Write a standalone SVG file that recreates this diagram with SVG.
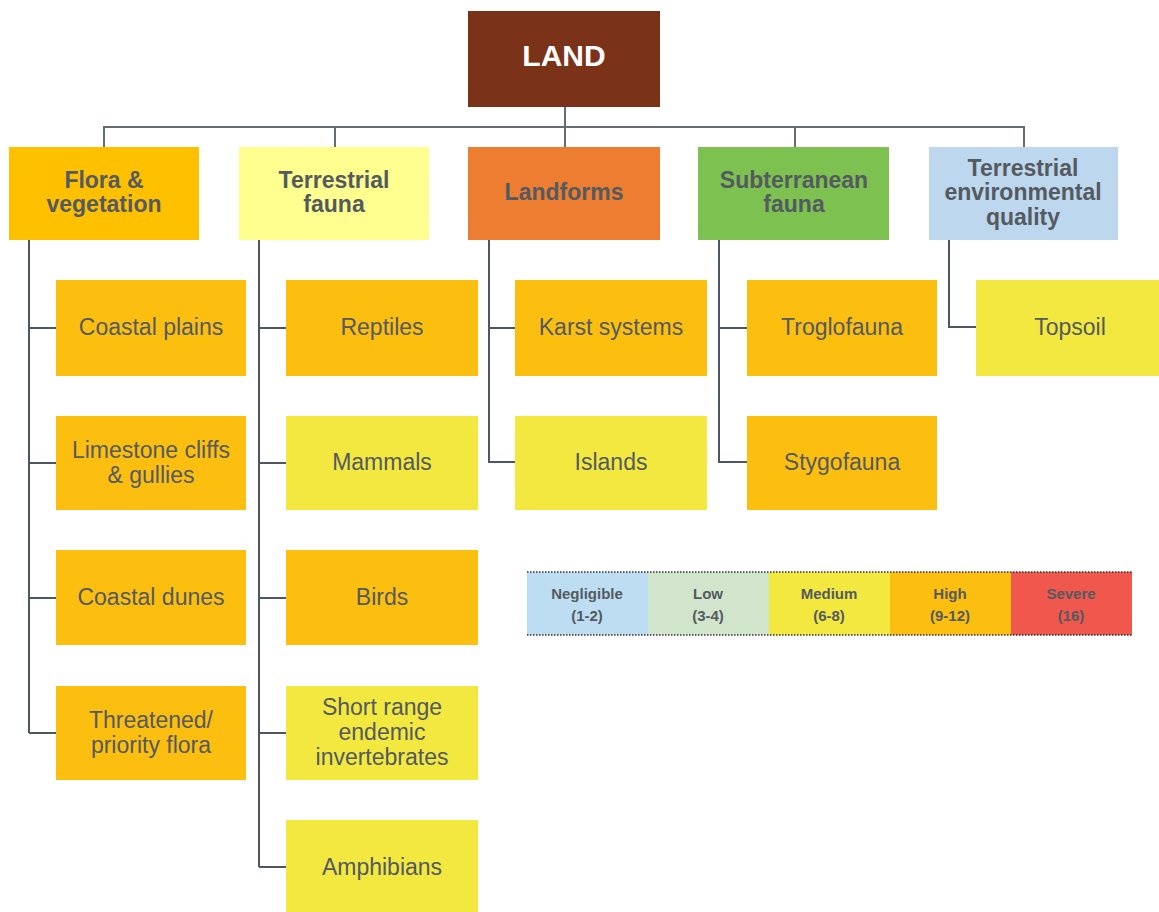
<svg xmlns="http://www.w3.org/2000/svg" width="1159" height="912" viewBox="0 0 1159 912">
  <style>
    .t { font-family: "Liberation Sans", Arial, sans-serif; fill: #545a60; text-anchor: middle; }
    .h { font-size: 23px; font-weight: bold; }
    .s { font-size: 23px; }
    .lg { font-size: 15px; font-weight: bold; }
    .root { font-family: "Liberation Sans", Arial, sans-serif; font-size: 30px; font-weight: bold; fill: #ffffff; text-anchor: middle; }
    .ln { fill: none; stroke: #4c5664; stroke-width: 2; }
    .top { fill: none; stroke: #646b72; stroke-width: 2; }
    .or { fill: #fcbf10; }
    .ye { fill: #f2e840; }
    .dot { stroke: #333; stroke-width: 1.5; stroke-dasharray: 1.5 1.5; }
  </style>

  <!-- connectors -->
  <g id="connectors">
    <path class="top" d="M565 107V147M104 147V127H1024V147M335 127V147M795 127V147"/>
    <path class="ln" d="M29 240V733M29 328H56M29 463H56M29 598H56M29 733H56"/>
    <path class="ln" d="M259 240V867M259 328H286M259 463H286M259 598H286M259 733H286M259 867H286"/>
    <path class="ln" d="M489 240V462H515M489 328H515"/>
    <path class="ln" d="M719 240V462H747M719 328H747"/>
    <path class="ln" d="M949 240V327H976"/>
  </g>

  <!-- root -->
  <g id="land">
    <rect x="468" y="11" width="192" height="96" fill="#7a3218"/>
    <text class="root" x="564" y="66">LAND</text>
  </g>

  <!-- first level -->
  <g id="flora">
    <rect x="9" y="147" width="190" height="93" fill="#ffc000"/>
    <text class="t h" x="104" y="188">Flora &amp;</text>
    <text class="t h" x="104" y="212">vegetation</text>
  </g>
  <g id="terrestrial-fauna">
    <rect x="239" y="147" width="190" height="93" fill="#ffff8f"/>
    <text class="t h" x="334" y="188">Terrestrial</text>
    <text class="t h" x="334" y="212">fauna</text>
  </g>
  <g id="landforms">
    <rect x="468" y="147" width="192" height="93" fill="#ed7d31"/>
    <text class="t h" x="564" y="200">Landforms</text>
  </g>
  <g id="subterranean-fauna">
    <rect x="698" y="147" width="191" height="93" fill="#7dc151"/>
    <text class="t h" x="794" y="188">Subterranean</text>
    <text class="t h" x="794" y="212">fauna</text>
  </g>
  <g id="environmental-quality">
    <rect x="929" y="147" width="189" height="93" fill="#bdd7ee"/>
    <text class="t h" x="1023" y="176">Terrestrial</text>
    <text class="t h" x="1023" y="200">environmental</text>
    <text class="t h" x="1023" y="225">quality</text>
  </g>

  <!-- flora & vegetation -->
  <g id="coastal-plains">
    <rect class="or" x="56" y="280" width="190" height="96"/>
    <text class="t s" x="151" y="335">Coastal plains</text>
  </g>
  <g id="limestone-cliffs">
    <rect class="or" x="56" y="416" width="190" height="94"/>
    <text class="t s" x="151" y="458">Limestone cliffs</text>
    <text class="t s" x="151" y="483">&amp; gullies</text>
  </g>
  <g id="coastal-dunes">
    <rect class="or" x="56" y="550" width="190" height="95"/>
    <text class="t s" x="151" y="605">Coastal dunes</text>
  </g>
  <g id="threatened-flora">
    <rect class="or" x="56" y="686" width="190" height="94"/>
    <text class="t s" x="151" y="728">Threatened/</text>
    <text class="t s" x="151" y="753">priority flora</text>
  </g>

  <!-- terrestrial fauna -->
  <g id="reptiles">
    <rect class="or" x="286" y="280" width="192" height="96"/>
    <text class="t s" x="382" y="335">Reptiles</text>
  </g>
  <g id="mammals">
    <rect class="ye" x="286" y="416" width="192" height="94"/>
    <text class="t s" x="382" y="470">Mammals</text>
  </g>
  <g id="birds">
    <rect class="or" x="286" y="550" width="192" height="95"/>
    <text class="t s" x="382" y="605">Birds</text>
  </g>
  <g id="short-range-endemics">
    <rect class="ye" x="286" y="686" width="192" height="94"/>
    <text class="t s" x="382" y="715">Short range</text>
    <text class="t s" x="382" y="740">endemic</text>
    <text class="t s" x="382" y="765">invertebrates</text>
  </g>
  <g id="amphibians">
    <rect class="ye" x="286" y="820" width="192" height="92"/>
    <text class="t s" x="382" y="875">Amphibians</text>
  </g>

  <!-- landforms -->
  <g id="karst-systems">
    <rect class="or" x="515" y="280" width="192" height="96"/>
    <text class="t s" x="611" y="335">Karst systems</text>
  </g>
  <g id="islands">
    <rect class="ye" x="515" y="416" width="192" height="94"/>
    <text class="t s" x="611" y="470">Islands</text>
  </g>

  <!-- subterranean fauna -->
  <g id="troglofauna">
    <rect class="or" x="747" y="280" width="190" height="96"/>
    <text class="t s" x="842" y="335">Troglofauna</text>
  </g>
  <g id="stygofauna">
    <rect class="or" x="747" y="416" width="190" height="94"/>
    <text class="t s" x="842" y="470">Stygofauna</text>
  </g>

  <!-- environmental quality -->
  <g id="topsoil">
    <rect class="ye" x="976" y="280" width="183" height="96"/>
    <text class="t s" x="1070" y="335">Topsoil</text>
  </g>

  <!-- risk legend -->
  <g id="legend">
    <rect x="527" y="572" width="121" height="63" fill="#bddef2"/>
    <rect x="648" y="572" width="121" height="63" fill="#d0e5cc"/>
    <rect x="769" y="572" width="121" height="63" fill="#f2e840"/>
    <rect x="890" y="572" width="121" height="63" fill="#fcbf10"/>
    <rect x="1011" y="572" width="121" height="63" fill="#f0574d"/>
    <line class="dot" x1="527" y1="572" x2="1132" y2="572"/>
    <line class="dot" x1="527" y1="635" x2="1132" y2="635"/>
    <text class="t lg" x="587" y="599">Negligible</text>
    <text class="t lg" x="587" y="621">(1-2)</text>
    <text class="t lg" x="708" y="599">Low</text>
    <text class="t lg" x="708" y="621">(3-4)</text>
    <text class="t lg" x="829" y="599">Medium</text>
    <text class="t lg" x="829" y="621">(6-8)</text>
    <text class="t lg" x="950" y="599">High</text>
    <text class="t lg" x="950" y="621">(9-12)</text>
    <text class="t lg" x="1071" y="599">Severe</text>
    <text class="t lg" x="1071" y="621">(16)</text>
  </g>
</svg>
